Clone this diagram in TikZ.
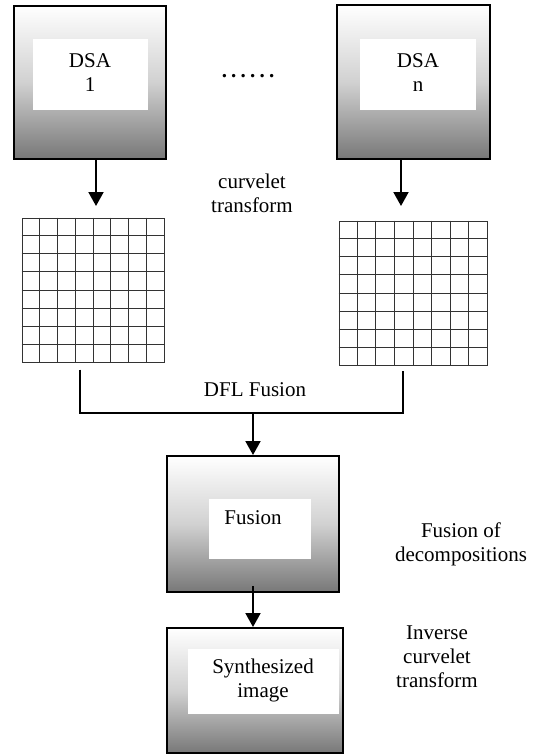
\documentclass[tikz,border=0pt]{standalone}
\usepackage{fontspec}
\setmainfont{LiberationSerif}[Extension=.ttf, UprightFont=*-Regular, BoldFont=*-Bold]
\usetikzlibrary{arrows.meta,calc}

\tikzset{
  txt/.style={font=\rmfamily\fontsize{21}{24}\selectfont, align=center, inner sep=0pt},
  shadedbox/.style={draw=black, line width=2pt, top color=white, bottom color=black!53,
    middle color=black!18, inner sep=0pt},
  whitebox/.style={fill=white, draw=none, inner sep=0pt},
  gridbox/.style={draw=black!80, line width=1pt, inner sep=0pt},
  conn/.style={line width=2pt},
  arr/.style={line width=2pt, -{Triangle[length=14pt,width=15pt]}},
}

\begin{document}
\begin{tikzpicture}[x=1pt,y=-1pt]
\useasboundingbox (0,0) rectangle (535,756);

% input images
\node[shadedbox, minimum width=152pt, minimum height=153pt] (dsa1) at (90,82) {};
\node[whitebox, minimum width=115pt, minimum height=71pt] (w1) at (90.5,74) {};
\node[txt] (t1) at (90,73) {DSA\\1};

\node[shadedbox, minimum width=153pt, minimum height=154pt] (dsan) at (413.5,82) {};
\node[whitebox, minimum width=116pt, minimum height=71pt] (wn) at (418,74.5) {};
\node[txt] (tn) at (418,73) {DSA\\n};

\node[txt, font=\rmfamily\fontsize{21}{24}\selectfont\bfseries] (dots) at (248,76)
  {.\kern4.2pt.\kern4.2pt.\kern4.2pt.\kern4.2pt.\kern4.2pt.};

\node[txt] (ct) at (252,193) {curvelet\\transform};

% coefficient grids
\node[gridbox, minimum width=142pt, minimum height=144pt] (gl) at (93,290) {};
\node[gridbox, minimum width=148pt, minimum height=144pt] (gr) at (413,293) {};
\foreach \g in {gl,gr}{
  \foreach \i in {1,...,7}{
    \draw[black!80, line width=1pt]
      ($(\g.north west)!\i/8!(\g.north east)$) -- ($(\g.south west)!\i/8!(\g.south east)$);
    \draw[black!80, line width=1pt]
      ($(\g.north west)!\i/8!(\g.south west)$) -- ($(\g.north east)!\i/8!(\g.south east)$);
  }
}

% transform arrows
\coordinate (a1) at (96,206);
\coordinate (an) at (401,206);
\draw[arr] (dsa1.south -| a1) -- (a1);
\draw[arr] (dsan.south -| an) -- (an);

% fusion stage
\node[shadedbox, minimum width=172pt, minimum height=136pt] (fus) at (253,524) {};
\node[whitebox, minimum width=102pt, minimum height=60pt] (wf) at (260,529) {};
\node[txt] (tf) at (253,518) {Fusion};

\node[txt] (dfl) at (255,390) {DFL Fusion};
\coordinate (jl) at (80,413);
\coordinate (jr) at (403,413);
\coordinate (jm) at (253,413);
\draw[conn] ([yshift=-7pt]gl.south -| jl) -- (jl) -- (jr) -- ([yshift=-5pt]gr.south -| jr);
\draw[arr] (jm) -- (fus.north -| jm);

\node[txt] (fd) at (461,544) {Fusion of\\decompositions};

% reconstruction
\node[shadedbox, minimum width=176pt, minimum height=125pt] (syn) at (255,690.5) {};
\node[whitebox, minimum width=151pt, minimum height=65pt] (ws) at (263.5,681.5) {};
\node[txt] (ts) at (263,680) {Synthesized\\image};
\draw[arr] ([yshift=7pt]fus.south -| jm) -- (syn.north -| jm);

\node[txt] (ic) at (437,657) {Inverse\\curvelet\\transform};
\end{tikzpicture}
\end{document}
